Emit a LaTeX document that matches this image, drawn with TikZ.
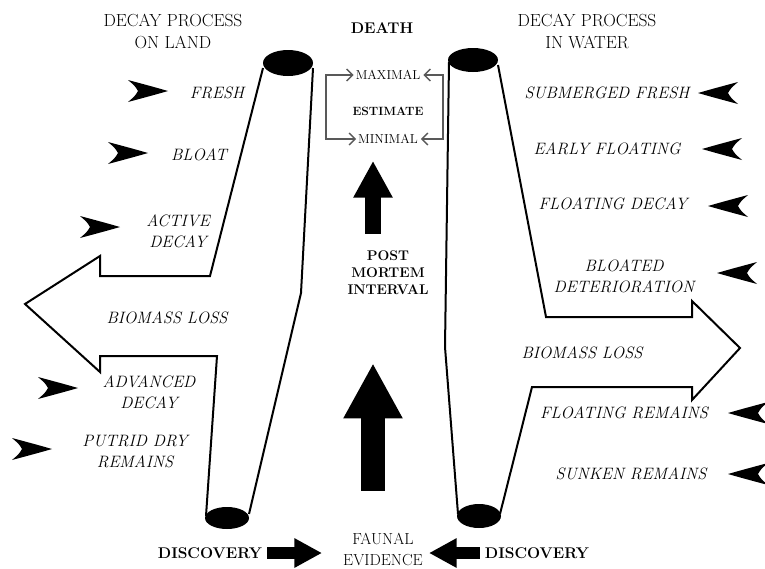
\documentclass[tikz,border=0pt]{standalone}
\usetikzlibrary{arrows.meta,positioning}
\tikzset{
  dart/.pic={\fill (0,0) .. controls (-14,-4) .. (-40,-11) .. controls (-33,-5) .. (-30,0)
    .. controls (-33,5) .. (-40,11) .. controls (-14,4) .. (0,0) -- cycle;}
}
\begin{document}
\begin{tikzpicture}[x=1pt, y=-1pt,
    heading/.style={font=\fontsize{17.5}{22}\selectfont, align=center, inner sep=0pt},
    stage/.style={font=\fontsize{16.5}{21}\selectfont\itshape, align=center, inner sep=0pt},
    keyword/.style={font=\fontsize{14}{17}\selectfont\bfseries, align=center, inner sep=0pt},
    limit/.style={font=\fontsize{13}{14}\selectfont, inner sep=0pt},
    outline/.style={line width=2pt, line join=miter},
    bracket/.style={draw=black!65, line width=1.4pt,
      {Straight Barb[length=6pt,width=12pt]}-{Straight Barb[length=6pt,width=12pt]}},
    blockarrow/.style={line width=#1, -{Triangle[length=2.3*#1,width=2.3*#1]}}]
    \useasboundingbox (0,0) rectangle (765,568);

    % headings
    \node[heading](land) at (173,31){DECAY PROCESS\\ON LAND};
    \node[heading](water) at (587,31){DECAY PROCESS\\IN WATER};
    \node[keyword, font=\fontsize{15.5}{17}\selectfont\bfseries](death) at (382,28){DEATH};

    % estimate
    \node[limit](max) at (388,75){MAXIMAL};
    \node[keyword, font=\fontsize{12}{14}\selectfont\bfseries](est) at (388,111){ESTIMATE};
    \node[limit](min) at (388,139){MINIMAL};
    \coordinate (bl) at (326,107);
    \coordinate (br) at (443,107);
    \draw[bracket] ([xshift=-2pt]max.west) -| (bl) |- ([xshift=-2pt]min.west);
    \draw[bracket] ([xshift=3pt]max.east) -| (br) |- ([xshift=3pt]min.east);

    \node[keyword](pmi) at (388,273){POST\\MORTEM\\INTERVAL};
    \node[heading, font=\fontsize{16}{21}\selectfont](faunal) at (383,549){FAUNAL\\EVIDENCE};
    \node[keyword, font=\fontsize{15.5}{17}\selectfont\bfseries](discl) at (210,553){DISCOVERY};
    \node[keyword, font=\fontsize{15.5}{17}\selectfont\bfseries](discw) at (537,553){DISCOVERY};

    \draw[blockarrow=16pt, shorten <=17pt, shorten >=17pt]
      ([xshift=-15pt]pmi.north) -- ([xshift=-15pt]min.south);
    \draw[blockarrow=24pt, shorten <=42pt, shorten >=68pt]
      ([xshift=-10pt]faunal.north) -- ([xshift=-15pt]pmi.south);
    \draw[blockarrow=12pt, shorten <=5pt, shorten >=21pt] (discl.east) -- (discl.east -| faunal.west);
    \draw[blockarrow=12pt, shorten <=5pt, shorten >=6pt] (discw.west) -- (discw.west -| faunal.east);

    % land
    \fill (288,63) ellipse [x radius=25, y radius=13];
    \fill (227,518) ellipse [x radius=22, y radius=11];
    \draw[outline] (263,68) -- (210,276) -- (100,276) -- (100,256) -- (25,304)
      -- (100,372) -- (100,356) -- (217,356) -- (206,516);
    \draw[outline] (313,68) -- (301,293) -- (249,514);
    \node[stage](fresh) at (217,93){FRESH};
    \node[stage](bloat) at (199,155){BLOAT};
    \node[stage](active) at (178,231){ACTIVE\\DECAY};
    \node[stage](lossl) at (167,318){BIOMASS LOSS};
    \node[stage](adv) at (149,392){ADVANCED\\DECAY};
    \node[stage](dry) at (135,452){PUTRID DRY\\REMAINS};
    \foreach \x/\y in {168/91, 148/153, 120/227, 78/388, 52/449}
      \pic at (\x,\y) {dart};

    % water
    \fill (473,60) ellipse [x radius=25, y radius=12];
    \fill (479,516) ellipse [x radius=22, y radius=12];
    \draw[outline] (449,62) -- (445,347) -- (458,514);
    \draw[outline] (498,65) -- (546,317) -- (692,317) -- (692,301) -- (740,348)
      -- (692,400) -- (692,387) -- (532,387) -- (500,514);
    \node[stage](sub) at (607,93){SUBMERGED FRESH};
    \node[stage](early) at (607,149){EARLY FLOATING};
    \node[stage](fdecay) at (613,204){FLOATING DECAY};
    \node[stage](bloated) at (624,276){BLOATED\\DETERIORATION};
    \node[stage](lossw) at (582,353){BIOMASS LOSS};
    \node[stage](fremain) at (624,413){FLOATING REMAINS};
    \node[stage](sunken) at (631,474){SUNKEN REMAINS};
    \foreach \x/\y in {698/93, 702/149, 708/206, 717/273, 728/413, 728/474}
      \pic[xscale=-1] at (\x,\y) {dart};
\end{tikzpicture}
\end{document}
